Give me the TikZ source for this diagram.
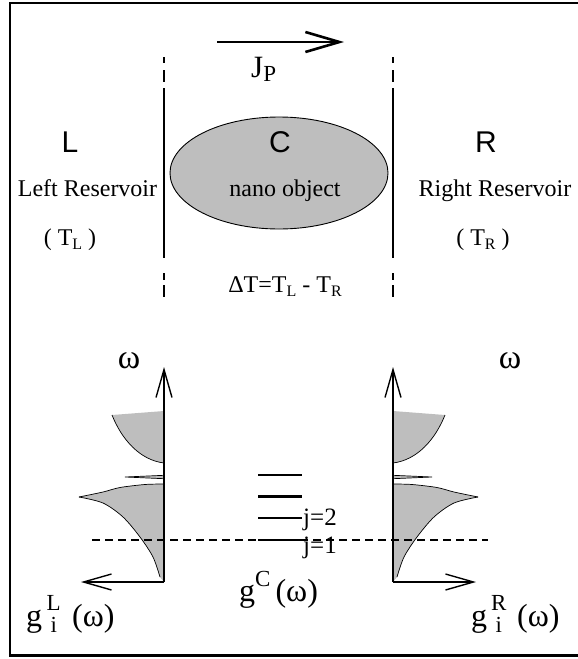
\documentclass[tikz,border=0pt]{standalone}
\usepackage{fontspec}
\setmainfont{Liberation Serif}
\newfontfamily\hvfont{Liberation Sans}
\usetikzlibrary{arrows.meta,shapes.geometric}
\definecolor{shade}{RGB}{190,190,190}
\newcommand{\lowsub}[1]{\raisebox{-4pt}{\fontsize{16}{16}\selectfont #1}}
\newcommand{\supsb}[2]{\rlap{\raisebox{16pt}{\makebox[15pt]{\fontsize{23}{23}\selectfont #1}}}\raisebox{-6pt}{\makebox[15pt]{\fontsize{23}{23}\selectfont #2}}}
\begin{document}
\begin{tikzpicture}[x=1pt,y=-1pt,
  txt/.style={font=\fontsize{24}{28}\selectfont, inner sep=0pt},
  bigtxt/.style={font=\fontsize{32}{36}\selectfont, inner sep=0pt},
  omegatxt/.style={font=\fontsize{34}{38}\selectfont, inner sep=0pt},
  sanstxt/.style={font=\hvfont\fontsize{30}{34}\selectfont, inner sep=0pt},
  leveltxt/.style={font=\fontsize{25}{28}\selectfont, inner sep=0pt},
  wall/.style={line width=2.2pt},
  frame/.style={line width=2.2pt},
  axisarrow/.style={line width=1.4pt, -{Straight Barb[length=28pt,width=16pt,line width=1.4pt]}},
  fluxarrow/.style={line width=2.6pt, -{Straight Barb[length=34pt,width=20pt,line width=2.6pt]}},
  lobe/.style={fill=shade, draw=none},
  edge/.style={line width=0.7pt},
  fermi/.style={line width=1.3pt, dash pattern=on 8pt off 5pt},
]
\useasboundingbox (0,0) rectangle (578,659);
% frame (right side cut off)
\draw[frame] (580,3) -- (10,3) -- (10,655.5) -- (580,655.5);

% reservoir boundaries
\draw[wall] (164,57)--(164,63) (164,70)--(164,82) (164,88)--(164,258) (164,273)--(164,280) (164,285)--(164,297);
\draw[wall] (393,57)--(393,63) (393,70)--(393,82) (393,88)--(393,258) (393,273)--(393,280) (393,285)--(393,297);

% flux arrow
\coordinate (jstart) at (217,42);
\coordinate (jend) at (344,42);
\draw[fluxarrow] (jstart) -- (jend);
\node[font=\fontsize{31}{34}\selectfont, inner sep=0pt, anchor=base west] (jp) at (251,77) {J\raisebox{-4pt}{\fontsize{23}{23}\selectfont P}};

% nano object
\node[draw, line width=0.9pt, fill=shade, ellipse, minimum width=218pt, minimum height=112pt, inner sep=0pt] (obj) at (279,173) {};
\node[sanstxt, anchor=base] (lL) at (70,152) {L};
\node[sanstxt, anchor=base] (lC) at (280,152) {C};
\node[sanstxt, anchor=base] (lR) at (486,152) {R};
\node[txt, anchor=base] (leftres) at (87.5,196) {Left Reservoir};
\node[txt, anchor=base] (nano) at (285,196) {nano object};
\node[txt, anchor=base] (rightres) at (495,196) {Right Reservoir};
\node[txt, anchor=base] (TL) at (70,245) {( T\lowsub{L} )};
\node[txt, anchor=base] (TR) at (483,245) {( T\lowsub{R} )};
\node[txt, anchor=base] (dT) at (285,292) {ΔT=T\lowsub{L} - T\lowsub{R}};

% spectral densities (left, and mirrored right)
\foreach \m/\s in {0/1, 557/-1} {
\begin{scope}[xshift=\m pt, xscale=\s]
  \fill[lobe] (164,411) -- (112,415) .. controls (122,440) and (140,460) .. (164,463) -- cycle;
  \draw[edge] (112,415) .. controls (122,440) and (140,460) .. (164,463);
  \draw[edge, fill=shade] (164,475.3) .. controls (145,476) .. (125,477) .. controls (145,478) .. (164,478.7);
  \fill[lobe] plot[smooth] coordinates {(164,484) (145,484.5) (120,487.5) (103,492) (79,497)}
     -- plot[smooth] coordinates {(79,497) (103,503) (123,517) (140,537) (153,557) (160,577)} -- (164,582) -- cycle;
  \draw[edge] plot[smooth] coordinates {(164,484) (145,484.5) (120,487.5) (103,492) (79,497)};
  \draw[edge] plot[smooth] coordinates {(79,497) (103,503) (123,517) (140,537) (153,557) (160,577)};
\end{scope}
}

% axes
\coordinate (Lo) at (164,582);
\coordinate (Ltop) at (164,367);
\coordinate (Lleft) at (81,582);
\coordinate (Ro) at (393,582);
\coordinate (Rtop) at (393,367);
\coordinate (Rright) at (476,582);
\draw[axisarrow] (Lo) -- (Ltop);
\draw[axisarrow] (Lo) -- (Lleft);
\draw[axisarrow] (Ro) -- (Rtop);
\draw[axisarrow] (Ro) -- (Rright);

% Fermi level (dashed)
\coordinate (fa) at (92,540);
\coordinate (fb) at (488,540);
\draw[fermi] (fa) -- (fb);

% levels of the nano object
\draw[line width=1.5pt] (258,475) -- (302,475);
\draw[line width=2.2pt] (258,496.5) -- (302,496.5);
\draw[line width=1.5pt] (258,518) -- (302,518);
\draw[line width=2.2pt] (258,540) -- (302,540);
\node[leveltxt, anchor=base west] (j2) at (303,525) {j=2};
\node[leveltxt, anchor=base west] (j1) at (303,553) {j=1};

% labels
\node[omegatxt, anchor=base] (wL) at (129,368) {ω};
\node[omegatxt, anchor=base] (wR) at (510,368) {ω};
\node[bigtxt, anchor=base west] (gL) at (26,626) {g\hspace{4pt}\supsb{L}{i}\hspace{11pt}(ω)};
\node[bigtxt, anchor=base west] (gR) at (471,626) {g\hspace{4pt}\supsb{R}{i}\hspace{11pt}(ω)};
\node[bigtxt, anchor=base west] (gC) at (239,601) {g\raisebox{15pt}{\fontsize{23}{23}\selectfont C}\hspace{5pt}(ω)};
\end{tikzpicture}
\end{document}
